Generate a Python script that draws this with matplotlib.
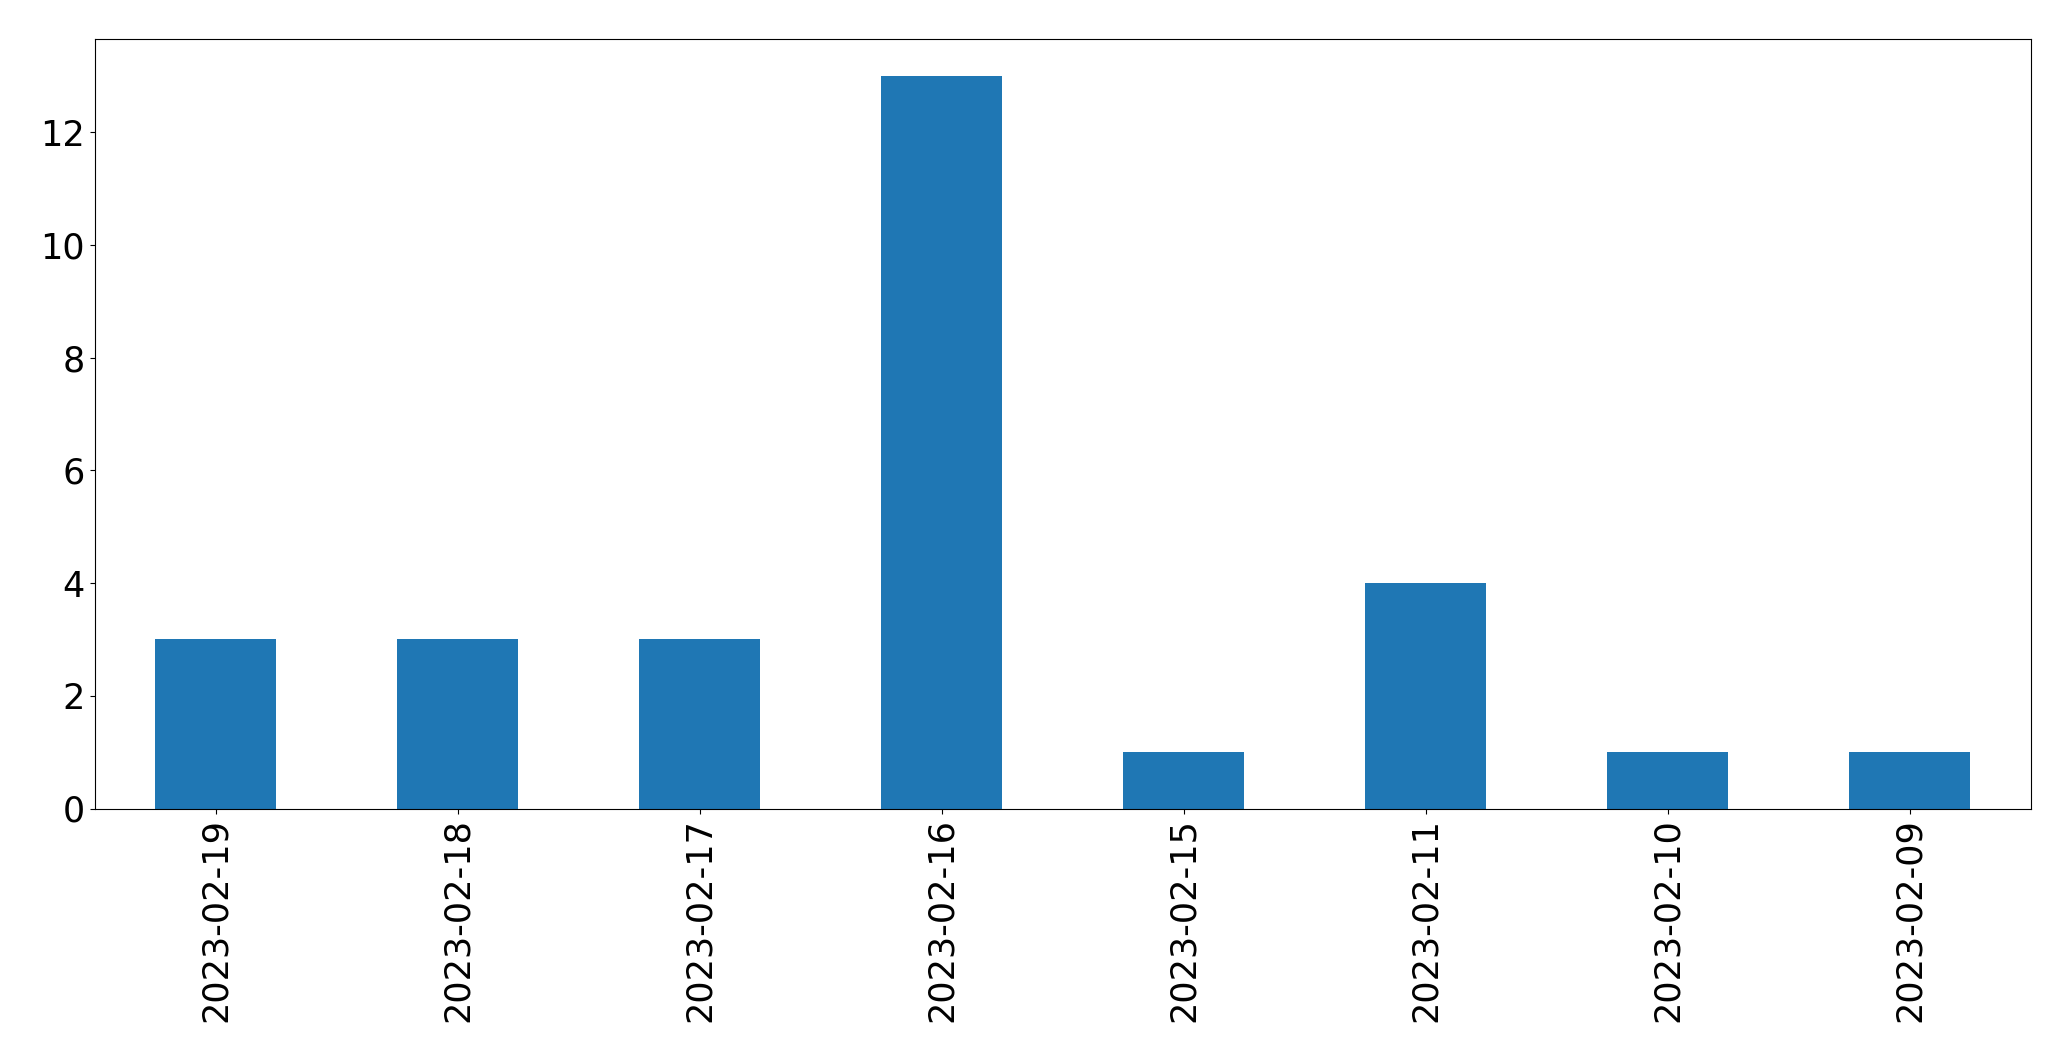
import matplotlib
matplotlib.use("Agg")
import matplotlib.pyplot as plt

# dates and counts per day
dates = ["2023-02-19", "2023-02-18", "2023-02-17", "2023-02-16",
         "2023-02-15", "2023-02-11", "2023-02-10", "2023-02-09"]
counts = [3, 3, 3, 13, 1, 4, 1, 1]

fig = plt.figure(figsize=(20.71, 10.61), dpi=100)
ax = fig.add_axes([94.7 / 2071, 1 - 808.5 / 1061, (2030.7 - 94.7) / 2071, (808.5 - 39.3) / 1061])

x = range(len(dates))
ax.bar(x, counts, width=0.5, color="#1f77b4")
ax.set_xlim(-0.5, len(dates) - 0.5)
ax.set_ylim(0, 13 * 1.05)
ax.set_xticks(list(x))
ax.set_xticklabels(dates, rotation=90)
ax.set_yticks([0, 2, 4, 6, 8, 10, 12])
ax.tick_params(labelsize=25.2)

fig.savefig("out.png", dpi=100)
